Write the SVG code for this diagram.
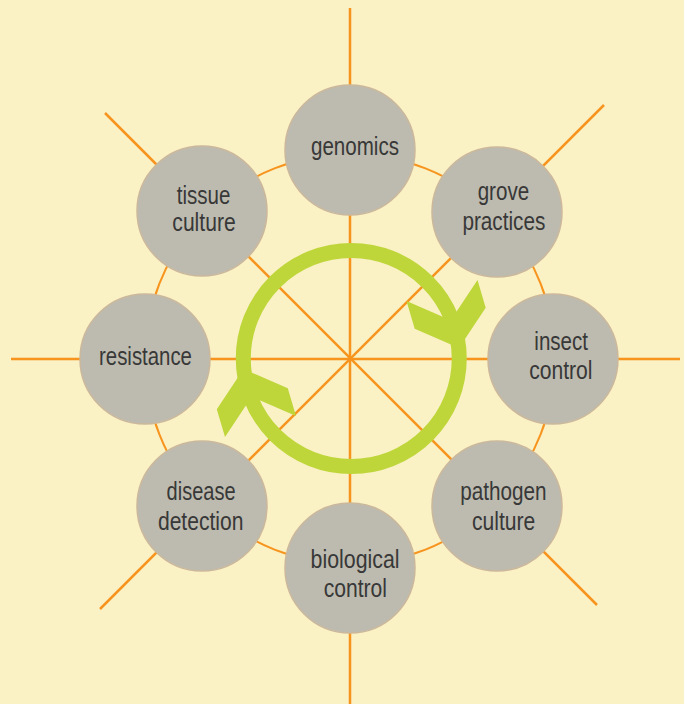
<svg xmlns="http://www.w3.org/2000/svg" width="684" height="704" viewBox="0 0 684 704">
  <style>
    .bg { fill: #FAF1C4; }
    .spoke { stroke: #F7941E; stroke-width: 2.5; fill: none; }
    .ring { stroke: #F7941E; stroke-width: 2; fill: none; }
    .node circle { fill: #BDBBAF; stroke: #CBB89C; stroke-width: 1.5; }
    .node text { font-family: "Liberation Sans", Arial, sans-serif; font-size: 25px; fill: #383838; text-anchor: middle; }
    .cycle { stroke: #BED63A; stroke-width: 15; fill: none; }
    .head { fill: #BED63A; }
  </style>
  <rect class="bg" x="0" y="0" width="684" height="704"/>
  <g id="connectors">
    <circle class="ring" cx="350" cy="359" r="205"/>
    <line class="spoke" x1="350" y1="8" x2="350" y2="704"/>
    <line class="spoke" x1="11" y1="359" x2="680" y2="359"/>
    <line class="spoke" x1="105" y1="113" x2="597" y2="605"/>
    <line class="spoke" x1="604" y1="105" x2="100" y2="609"/>
  </g>
  <g id="cycle-arrow">
    <circle class="cycle" cx="351.25" cy="358.5" r="108"/>
    <polygon class="head" points="459,348 485.7,307.8 477.5,280 450.8,320.2 406.5,301 414.7,328.8"/>
    <polygon class="head" points="459,348 485.7,307.8 477.5,280 450.8,320.2 406.5,301 414.7,328.8" transform="rotate(180 351.25 358.5)"/>
  </g>
  <g id="genomics" class="node">
    <circle cx="350" cy="150" r="65"/>
    <text x="355" y="155" textLength="88" lengthAdjust="spacingAndGlyphs">genomics</text>
  </g>
  <g id="grove-practices" class="node">
    <circle cx="497" cy="212" r="65"/>
    <text x="503.4" y="200" textLength="51.5" lengthAdjust="spacingAndGlyphs">grove</text>
    <text x="503.9" y="230" textLength="83" lengthAdjust="spacingAndGlyphs">practices</text>
  </g>
  <g id="insect-control" class="node">
    <circle cx="553" cy="359" r="65"/>
    <text x="561.2" y="350" textLength="53.7" lengthAdjust="spacingAndGlyphs">insect</text>
    <text x="560.8" y="379" textLength="63.3" lengthAdjust="spacingAndGlyphs">control</text>
  </g>
  <g id="pathogen-culture" class="node">
    <circle cx="497" cy="506" r="65"/>
    <text x="503.4" y="500" textLength="86.4" lengthAdjust="spacingAndGlyphs">pathogen</text>
    <text x="503.6" y="530" textLength="63.3" lengthAdjust="spacingAndGlyphs">culture</text>
  </g>
  <g id="biological-control" class="node">
    <circle cx="350" cy="568" r="65"/>
    <text x="355.1" y="568" textLength="89" lengthAdjust="spacingAndGlyphs">biological</text>
    <text x="355.3" y="597" textLength="63.3" lengthAdjust="spacingAndGlyphs">control</text>
  </g>
  <g id="disease-detection" class="node">
    <circle cx="202" cy="506" r="65"/>
    <text x="201.1" y="500" textLength="69" lengthAdjust="spacingAndGlyphs">disease</text>
    <text x="200.7" y="530" textLength="85.5" lengthAdjust="spacingAndGlyphs">detection</text>
  </g>
  <g id="resistance" class="node">
    <circle cx="145" cy="359" r="65"/>
    <text x="145.5" y="365" textLength="92.9" lengthAdjust="spacingAndGlyphs">resistance</text>
  </g>
  <g id="tissue-culture" class="node">
    <circle cx="202" cy="211" r="65"/>
    <text x="203.5" y="204" textLength="53.6" lengthAdjust="spacingAndGlyphs">tissue</text>
    <text x="204" y="231" textLength="63.3" lengthAdjust="spacingAndGlyphs">culture</text>
  </g>
</svg>
